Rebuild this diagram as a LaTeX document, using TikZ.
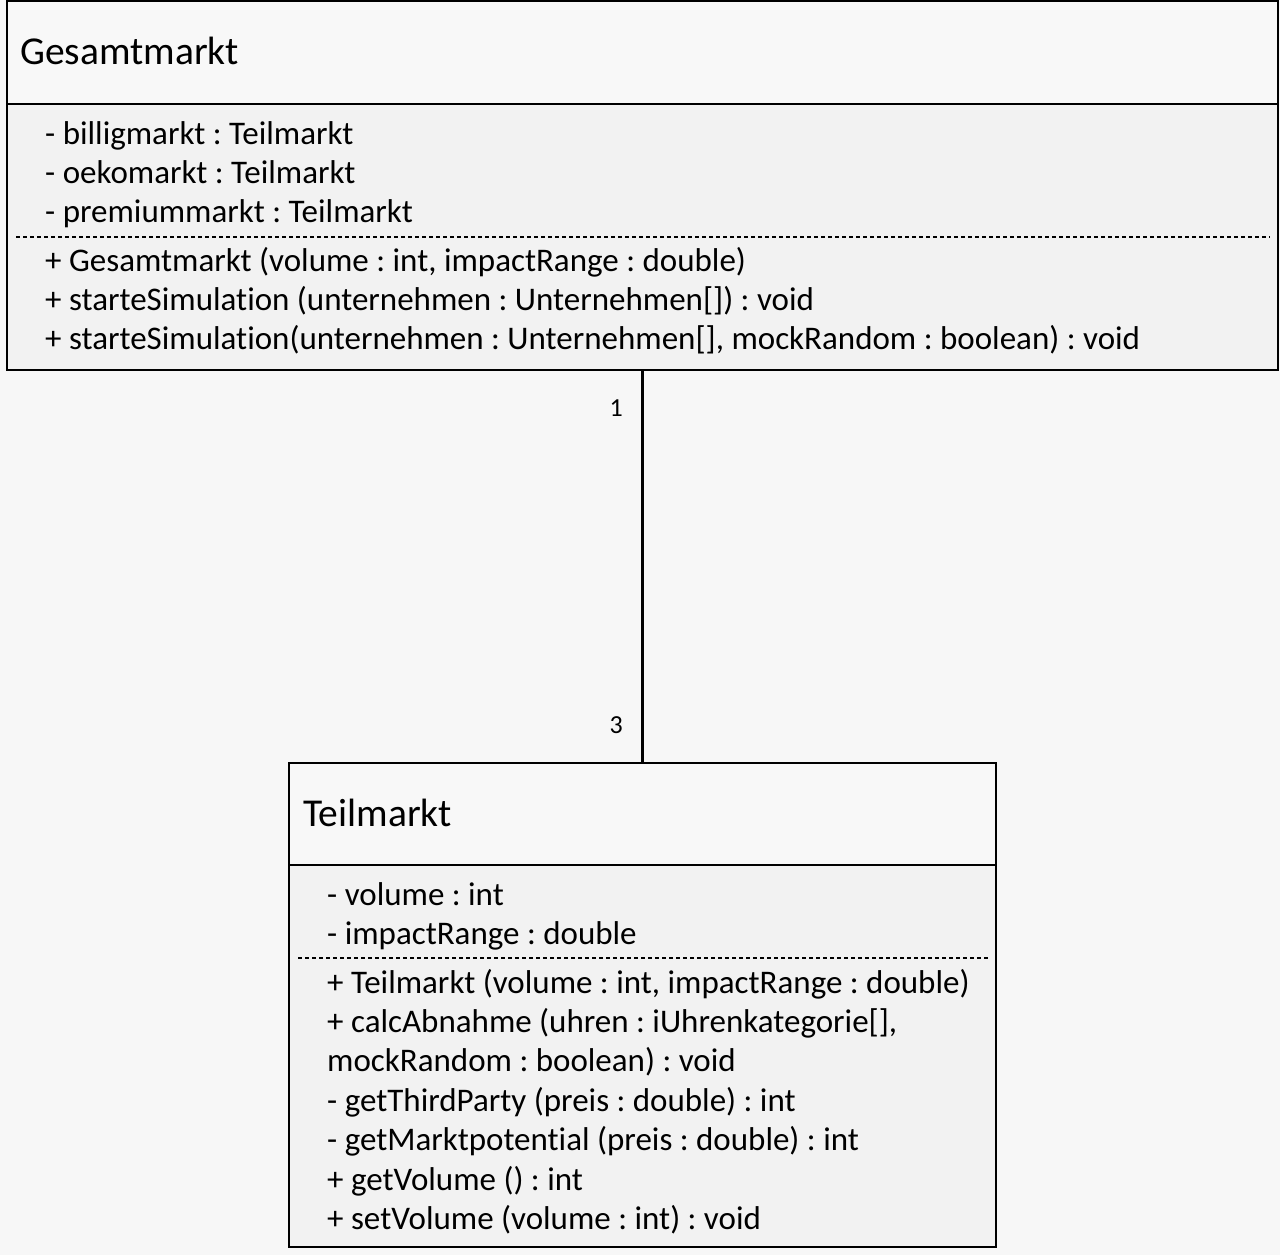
\documentclass[tikz,border=0pt]{standalone}
\usepackage{fontspec}
\setmainfont[Ligatures=NoCommon]{Carlito}
\usetikzlibrary{positioning}
\definecolor{bggrey}{HTML}{F7F7F7}
\definecolor{headgrey}{HTML}{F8F8F8}
\definecolor{bodygrey}{HTML}{F2F2F2}
\frenchspacing
\begin{document}
\begin{tikzpicture}[x=1pt,y=-1pt,
    box/.style={draw,line width=2pt,inner sep=0pt,outer sep=0pt,anchor=north west},
    member/.style={anchor=base west,inner sep=0pt,font=\fontsize{33}{38}\selectfont},
    title/.style={member,font=\fontsize{39.5}{44}\selectfont},
    mult/.style={anchor=base east,inner sep=0pt,font=\fontsize{26}{30}\selectfont},
    sep/.style={dash pattern=on 4pt off 3pt,line width=1.2pt}]
  \fill[bggrey] (0,0) rectangle (1280,1255);
  \useasboundingbox (0,0) rectangle (1280,1255);
  % Gesamtmarkt
  \node[box,fill=headgrey,minimum width=1271pt,minimum height=103pt] (gmhead) at (7,1) {};
  \node[box,fill=bodygrey,minimum width=1271pt,minimum height=266pt] (gmbody) at (gmhead.south west) {};
  \node[title] (gmname) at (20,65) {Gesamtmarkt};
  \foreach \t [count=\i] in {- billigmarkt : Teilmarkt,- oekomarkt : Teilmarkt,- premiummarkt : Teilmarkt}
    \node[member] (gma\i) at (45,144+39.4*\i-39.4) {\t};
  \draw[sep] (16,237) -- (1270,237);
  \foreach \t [count=\i] in {{+ Gesamtmarkt (volume : int, impactRange : double)},
      {+ starteSimulation (unternehmen : Unternehmen[]) : void},
      {+ starteSimulation(unternehmen : Unternehmen[], mockRandom : boolean) : void}}
    \node[member] (gmm\i) at (45,271+39.4*\i-39.4) {\t};
  % Teilmarkt
  \node[box,fill=headgrey,minimum width=707pt,minimum height=102pt] (tmhead) at (289,763) {};
  \node[box,fill=bodygrey,minimum width=707pt,minimum height=382pt] (tmbody) at (tmhead.south west) {};
  \node[title] (tmname) at (303,826) {Teilmarkt};
  \foreach \t [count=\i] in {- volume : int,- impactRange : double}
    \node[member] (tma\i) at (327,905+39.4*\i-39.4) {\t};
  \draw[sep] (298,958) -- (988,958);
  \foreach \t [count=\i] in {{+ Teilmarkt (volume : int, impactRange : double)},
      {+ calcAbnahme (uhren : iUhrenkategorie[],},
      {mockRandom : boolean) : void},
      {- getThirdParty (preis : double) : int},
      {- getMarktpotential (preis : double) : int},
      {+ getVolume () : int},
      {+ setVolume (volume : int) : void}}
    \node[member] (tmm\i) at (327,993+39.4*\i-39.4) {\t};
  % association
  \draw[line width=2.5pt] (gmbody.south) -- (tmhead.north);
  \node[mult] (m1) at (623,416) {1};
  \node[mult] (m3) at (623,733) {3};
\end{tikzpicture}
\end{document}
